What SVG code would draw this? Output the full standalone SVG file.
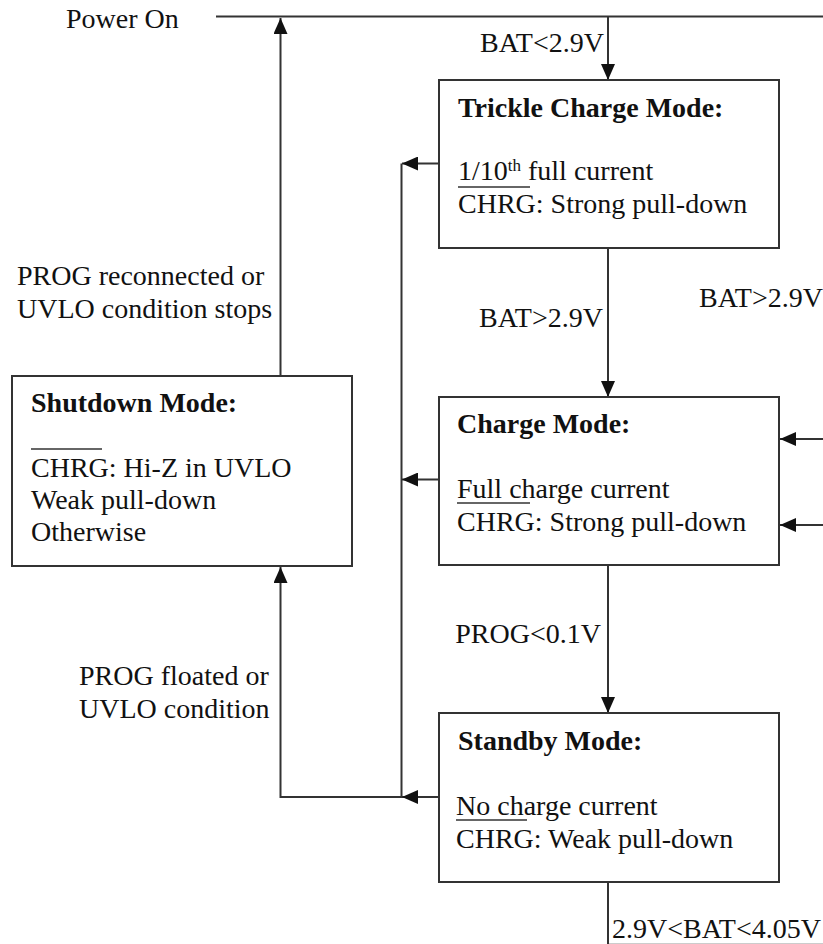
<svg xmlns="http://www.w3.org/2000/svg" width="823" height="944" viewBox="0 0 823 944">
<style>
text{font-family:"Liberation Serif","Times New Roman",serif;font-size:28px;fill:#111}
.b{font-weight:bold}
.box{fill:#fff;stroke:#333;stroke-width:2}
.c{fill:none;stroke:#333;stroke-width:2}
.a{marker-end:url(#ah)}
.ov{stroke:#333;stroke-width:1.5}
</style>
<defs>
<marker id="ah" markerUnits="userSpaceOnUse" markerWidth="16" markerHeight="14" viewBox="0 0 16 14" refX="16" refY="7" orient="auto">
<path d="M0,0 L16,7 L0,14 z" fill="#111"/>
</marker>
</defs>
<g id="connectors">
<path class="c" d="M216,16.5 H823"/>
<path class="c a" d="M608,16.5 V80"/>
<path class="c a" d="M280.5,376 V18"/>
<path class="c a" d="M439,163.5 H402"/>
<path class="c" d="M401.5,163.5 V797"/>
<path class="c a" d="M439,479.5 H402"/>
<path class="c a" d="M439,797 H402"/>
<path class="c a" d="M402,797 H280.5 V567"/>
<path class="c a" d="M608,248 V397"/>
<path class="c a" d="M608,566 V713"/>
<path class="c" d="M608,882 V944"/>
<path class="c a" d="M823,439 H780"/>
<path class="c a" d="M823,525 H780"/>
<path d="M609,943.5 H823" stroke="#ccc" stroke-width="1"/>
</g>
<g id="labels">
<text x="66" y="28">Power On</text>
<text x="604" y="52" text-anchor="end">BAT&lt;2.9V</text>
<text x="603" y="327" text-anchor="end">BAT&gt;2.9V</text>
<text x="699" y="307">BAT&gt;2.9V</text>
<text x="601" y="643" text-anchor="end">PROG&lt;0.1V</text>
<text x="612" y="938">2.9V&lt;BAT&lt;4.05V</text>
<text x="17" y="285">PROG reconnected or</text>
<text x="17" y="318">UVLO condition stops</text>
<text x="79" y="685">PROG floated or</text>
<text x="79" y="718">UVLO condition</text>
</g>
<g id="trickle">
<rect class="box" x="439" y="80" width="340" height="168"/>
<text class="b" x="458" y="117">Trickle Charge Mode:</text>
<text x="458" y="180">1/10<tspan font-size="17" dy="-9">th</tspan><tspan dy="9"> full current</tspan></text>
<line class="ov" x1="458" y1="187" x2="530" y2="187"/>
<text x="458" y="213">CHRG: Strong pull-down</text>
</g>
<g id="charge">
<rect class="box" x="439" y="397" width="340" height="168"/>
<text class="b" x="457" y="433">Charge Mode:</text>
<text x="457" y="498">Full charge current</text>
<line class="ov" x1="457" y1="503" x2="530" y2="503"/>
<text x="457" y="531">CHRG: Strong pull-down</text>
</g>
<g id="standby">
<rect class="box" x="439" y="713" width="340" height="169"/>
<text class="b" x="458" y="750">Standby Mode:</text>
<text x="456" y="815">No charge current</text>
<line class="ov" x1="456" y1="820" x2="527" y2="820"/>
<text x="456" y="848">CHRG: Weak pull-down</text>
</g>
<g id="shutdown">
<rect class="box" x="12" y="376" width="340" height="190"/>
<text class="b" x="31" y="412">Shutdown Mode:</text>
<line class="ov" x1="31" y1="449" x2="102" y2="449"/>
<text x="31" y="477">CHRG: Hi-Z in UVLO</text>
<text x="31" y="509">Weak pull-down</text>
<text x="31" y="541">Otherwise</text>
</g>
</svg>
